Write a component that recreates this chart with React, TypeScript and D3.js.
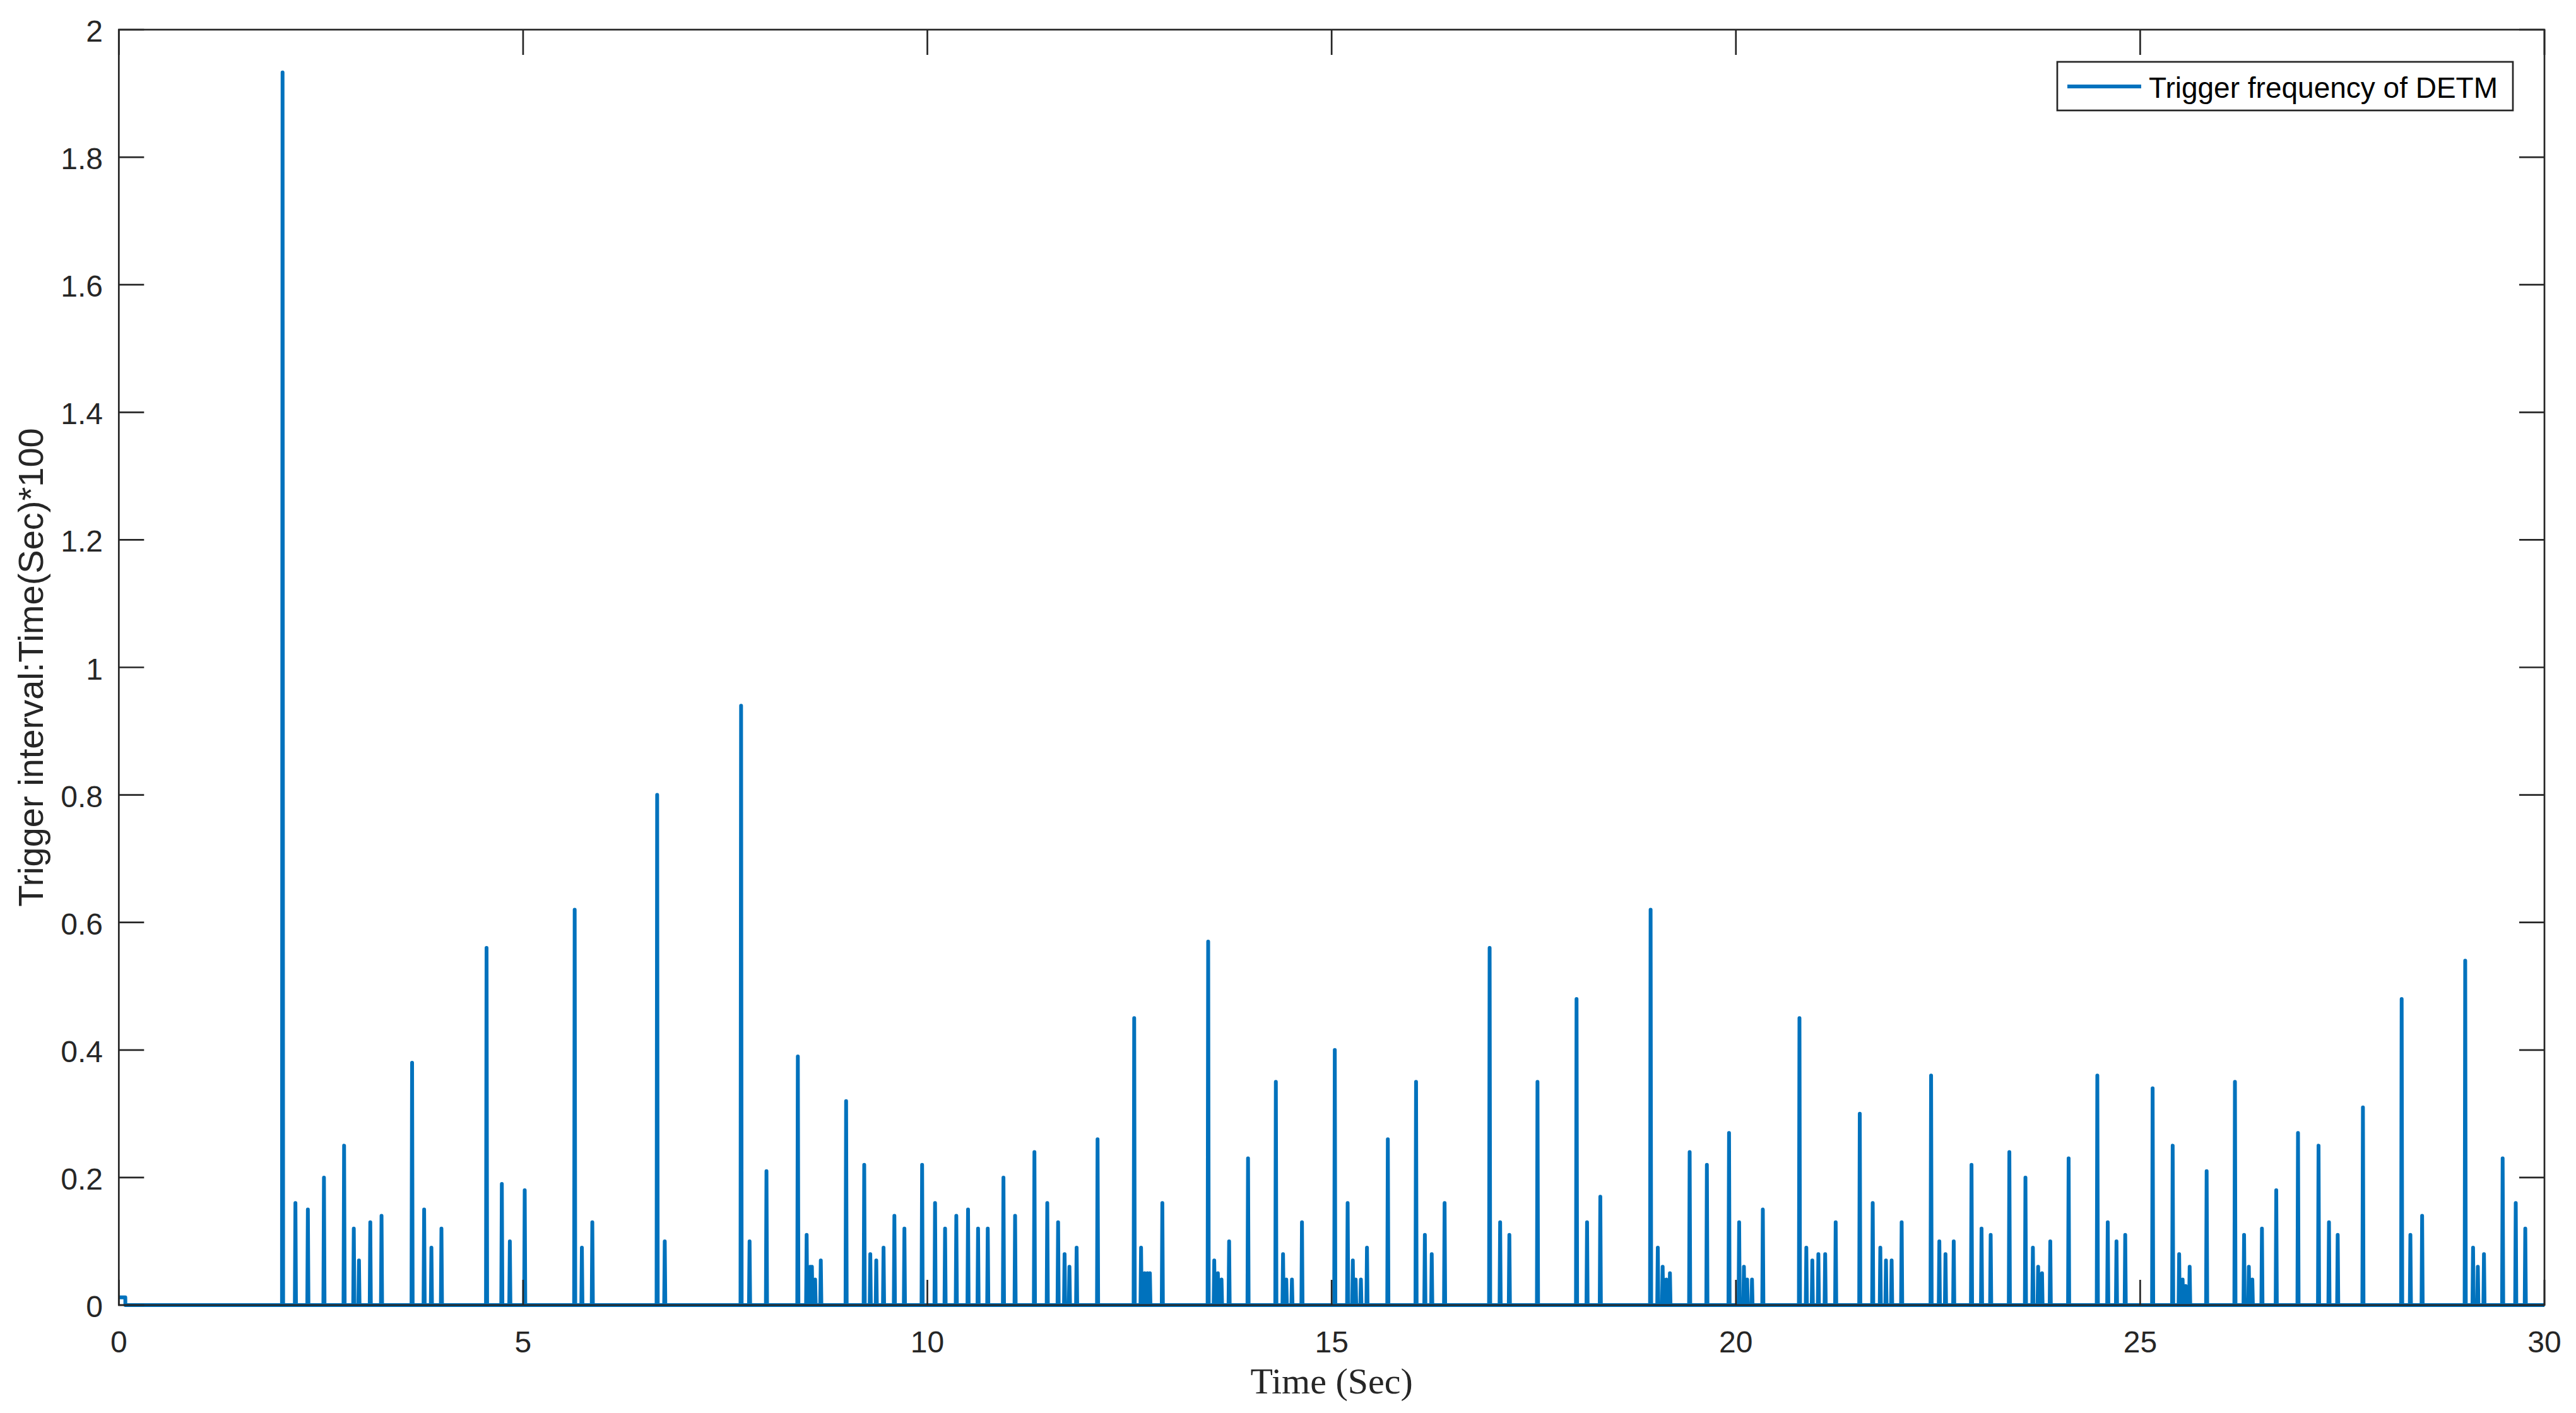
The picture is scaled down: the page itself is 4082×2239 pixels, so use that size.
import React from "react";
import * as d3 from "d3";

// ---- data ----
const xTicks = [0, 5, 10, 15, 20, 25, 30];
const yTicks = [0, 0.2, 0.4, 0.6, 0.8, 1, 1.2, 1.4, 1.6, 1.8, 2];
const yTickLabels = ["0", "0.2", "0.4", "0.6", "0.8", "1", "1.2", "1.4", "1.6", "1.8", "2"];

// initial small plateau at the start
const startTimes = [0, 0.08];
const startValues = [0.012, 0.012];

// trigger spikes: time (s) and height
const spikeTimes = [
  2.025, 2.184, 2.338, 2.537, 2.786, 2.906, 2.97, 3.11, 3.249, 3.627, 3.776, 3.866, 3.99,
  4.548, 4.737, 4.836, 5.02, 5.638, 5.727, 5.856, 6.658, 6.752,
  7.696, 7.801, 8.01, 8.398, 8.507, 8.552, 8.572, 8.612, 8.682, 8.995, 9.219, 9.294, 9.368,
  9.458, 9.592, 9.716, 9.935, 10.095, 10.219, 10.358, 10.503, 10.627, 10.747, 10.941, 11.085,
  11.324, 11.483, 11.617, 11.697, 11.757, 11.846, 12.105, 12.558, 12.643, 12.687, 12.722, 12.752,
  12.906, 13.473, 13.548, 13.593, 13.638, 13.732, 13.966, 14.31, 14.399, 14.439, 14.509, 14.633,
  15.039, 15.198, 15.262, 15.297, 15.362, 15.437, 15.695, 16.044, 16.153, 16.238, 16.397,
  16.954, 17.084, 17.198, 17.546, 18.029, 18.159, 18.323, 18.945, 19.034, 19.094, 19.139, 19.184,
  19.428, 19.641, 19.915, 20.04, 20.099, 20.139, 20.199, 20.333, 20.786, 20.871, 20.945, 21.02,
  21.104, 21.234, 21.532, 21.692, 21.786, 21.856, 21.926, 22.05,
  22.414, 22.516, 22.592, 22.694, 22.914, 23.038, 23.151, 23.382, 23.581, 23.673, 23.738, 23.786,
  23.888, 24.115, 24.47, 24.599, 24.707, 24.815, 25.154, 25.402, 25.482, 25.525, 25.563, 25.612,
  25.822, 26.172, 26.285, 26.344, 26.387, 26.506, 26.683, 26.952, 27.206, 27.335, 27.443, 27.755,
  28.234, 28.342, 28.487, 29.02, 29.117, 29.176, 29.252, 29.483, 29.645, 29.763,
];
const spikeValues = [
  1.933, 0.16, 0.15, 0.2, 0.25, 0.12, 0.07, 0.13, 0.14, 0.38, 0.15, 0.09, 0.12,
  0.56, 0.19, 0.1, 0.18, 0.62, 0.09, 0.13, 0.8, 0.1,
  0.94, 0.1, 0.21, 0.39, 0.11, 0.06, 0.06, 0.04, 0.07, 0.32, 0.22, 0.08, 0.07,
  0.09, 0.14, 0.12, 0.22, 0.16, 0.12, 0.14, 0.15, 0.12, 0.12, 0.2, 0.14,
  0.24, 0.16, 0.13, 0.08, 0.06, 0.09, 0.26, 0.45, 0.09, 0.05, 0.05, 0.05,
  0.16, 0.57, 0.07, 0.05, 0.04, 0.1, 0.23, 0.35, 0.08, 0.04, 0.04, 0.13,
  0.4, 0.16, 0.07, 0.04, 0.04, 0.09, 0.26, 0.35, 0.11, 0.08, 0.16,
  0.56, 0.13, 0.11, 0.35, 0.48, 0.13, 0.17, 0.62, 0.09, 0.06, 0.04, 0.05,
  0.24, 0.22, 0.27, 0.13, 0.06, 0.04, 0.04, 0.15, 0.45, 0.09, 0.07, 0.08,
  0.08, 0.13, 0.3, 0.16, 0.09, 0.07, 0.07, 0.13,
  0.36, 0.1, 0.08, 0.1, 0.22, 0.12, 0.11, 0.24, 0.2, 0.09, 0.06, 0.05,
  0.1, 0.23, 0.36, 0.13, 0.1, 0.11, 0.34, 0.25, 0.08, 0.04, 0.03, 0.06,
  0.21, 0.35, 0.11, 0.06, 0.04, 0.12, 0.18, 0.27, 0.25, 0.13, 0.11, 0.31,
  0.48, 0.11, 0.14, 0.54, 0.09, 0.06, 0.08, 0.23, 0.16, 0.12,
];
const seriesName = "Trigger frequency of DETM";
const xLabel = "Time (Sec)";
const yLabel = "Trigger interval:Time(Sec)*100";

// ---- layout ----
const W = 4082;
const H = 2239;
const left = 188.3;
const right = 4032;
const top = 47;
const bottom = 2068;
const axisColor = "#262626";
const lineColor = "#0072BD";
const tickLen = 40;
const lineW = 6;
const sans = "'Liberation Sans', Arial, Helvetica, sans-serif";
const serif = "'Liberation Serif', 'Times New Roman', serif";

export default function App() {
  const x = d3.scaleLinear().domain([0, 30]).range([left, right]);
  const y = d3.scaleLinear().domain([0, 2]).range([bottom, top]);

  const halfW = 0.007;
  const pts: [number, number][] = [];
  startTimes.forEach((t, i) => pts.push([t, startValues[i]]));
  pts.push([startTimes[startTimes.length - 1] + 0.001, 0]);
  spikeTimes.forEach((t, i) => {
    pts.push([t - halfW, 0]);
    pts.push([t, spikeValues[i]]);
    pts.push([t + halfW, 0]);
  });
  pts.push([30, 0]);

  const line = d3
    .line<[number, number]>()
    .x((d) => x(d[0]))
    .y((d) => y(d[1]));

  return (
    <svg
      width={W}
      height={H}
      style={{ position: "absolute", left: 0, top: 0, background: "#fff" }}
    >
      <rect x={0} y={0} width={W} height={H} fill="#fff" />
      {/* data line */}
      <path
        d={line(pts) || ""}
        fill="none"
        stroke={lineColor}
        strokeWidth={lineW}
        strokeLinejoin="round"
      />
      {/* box */}
      <rect
        x={left}
        y={top}
        width={right - left}
        height={bottom - top}
        fill="none"
        stroke={axisColor}
        strokeWidth={2.7}
      />
      {/* x ticks */}
      {xTicks.map((t) => (
        <g key={"x" + t}>
          <line x1={x(t)} x2={x(t)} y1={bottom} y2={bottom - tickLen} stroke={axisColor} strokeWidth={2.7} />
          <line x1={x(t)} x2={x(t)} y1={top} y2={top + tickLen} stroke={axisColor} strokeWidth={2.7} />
          <text
            x={x(t)}
            y={2143}
            textAnchor="middle"
            fontFamily={sans}
            fontSize={48}
            fill={axisColor}
          >
            {t}
          </text>
        </g>
      ))}
      {/* y ticks */}
      {yTicks.map((v, i) => (
        <g key={"y" + v}>
          <line x1={left} x2={left + tickLen} y1={y(v)} y2={y(v)} stroke={axisColor} strokeWidth={2.7} />
          <line x1={right} x2={right - tickLen} y1={y(v)} y2={y(v)} stroke={axisColor} strokeWidth={2.7} />
          <text
            x={163}
            y={y(v) + 19}
            textAnchor="end"
            fontFamily={sans}
            fontSize={48}
            fill={axisColor}
          >
            {yTickLabels[i]}
          </text>
        </g>
      ))}
      {/* axis labels */}
      <text
        x={(left + right) / 2}
        y={2208}
        textAnchor="middle"
        fontFamily={serif}
        fontSize={58}
        fill={axisColor}
      >
        {xLabel}
      </text>
      <text
        transform={`translate(68, ${(top + bottom) / 2}) rotate(-90)`}
        textAnchor="middle"
        fontFamily={sans}
        fontSize={56}
        fill={axisColor}
      >
        {yLabel}
      </text>
      {/* legend */}
      <rect x={3260} y={98} width={722} height={77} fill="#fff" stroke={axisColor} strokeWidth={2.7} />
      <line x1={3276} x2={3393} y1={137} y2={137} stroke={lineColor} strokeWidth={lineW} />
      <text x={3405} y={155} fontFamily={sans} fontSize={46} fill="#000">
        {seriesName}
      </text>
    </svg>
  );
}
